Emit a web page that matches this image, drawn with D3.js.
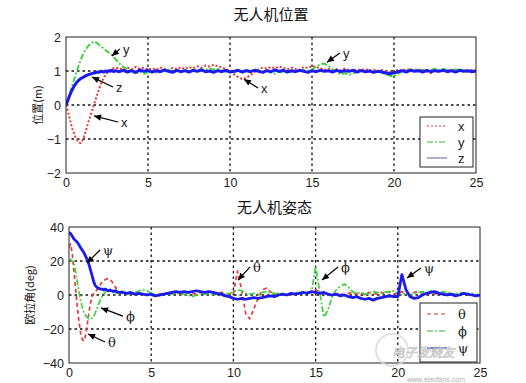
<!DOCTYPE html>
<html>
<head>
<meta charset="utf-8">
<script src="https://cdn.jsdelivr.net/npm/d3@7"></script>
<style>
  body { margin: 0; background: #fff; }
  svg { font-family: 'Liberation Sans', Arial, sans-serif; background: #fff; }
  .cjk { font-family: 'Noto Sans CJK SC', sans-serif; }
  .grid line { stroke: #111; stroke-dasharray: 2.5,3; stroke-width: 1.3; }
  .axis path, .axis line { display: none; }
  .axis text { font-size: 12.5px; fill: #222; font-family: 'Liberation Sans', Arial, sans-serif; }
  .note text { font-size: 13px; fill: #222; }
</style>
</head>
<body>
<svg width="526" height="383"></svg>
<script>
// time grid: 0.1 s for the first 3 s, then 0.25 s
var tGrid = d3.range(0, 3.001, 0.1).concat(d3.range(3.25, 25.001, 0.25));

var posTicks = [-2, -1, 0, 1, 2];
var angTicks = [-40, -20, 0, 20, 40];
var timeTicks = [0, 5, 10, 15, 20, 25];

// position (m)
var posX = [0,-0.15,-0.35,-0.55,-0.72,-0.85,-0.97,-1.05,-1.1,-1.12,-1.05,-0.92,-0.78,-0.6,-0.45,-0.3,-0.15,0,0.15,0.3,0.45,0.58,0.7,0.8,0.88,0.95,1.0,1.03,1.06,1.08,1.1,
  1.08,1.04,1.1,1.05,1.12,1.06,1.1,1.04,
  1.08,1.03,1.1,1.06,1.02,1.09,1.05,1.11,
  1.06,1.12,1.08,1.14,1.1,1.16,1.13,1.18,
  1.14,1.1,1.06,1.0,0.9,0.82,0.76,0.8,
  0.88,0.97,1.05,1.1,1.07,1.12,1.08,1.13,
  1.09,1.05,1.1,1.06,1.03,1.12,1.09,1.15,
  1.12,1.08,1.03,1.06,1.01,1.05,1.02,1.07,
  1.03,0.99,1.05,1.02,1.06,1.01,1.04,0.99,
  1.03,1.0,0.96,0.98,1.04,1.0,1.06,1.02,
  1.05,1.01,1.04,0.98,0.94,1.02,0.97,1.03,
  1.0,1.05,0.99,1.04,1.01,0.97,1.03,1.0];
var posY = [0,0.15,0.3,0.45,0.6,0.75,0.9,1.05,1.2,1.33,1.45,1.55,1.63,1.7,1.76,1.8,1.84,1.86,1.85,1.82,1.78,1.74,1.7,1.66,1.62,1.58,1.55,1.52,1.48,1.42,1.36,
  1.22,1.12,1.05,0.97,0.94,0.98,0.92,0.96,
  1.0,0.95,1.02,0.97,1.04,0.99,1.03,0.98,
  1.02,0.97,1.04,1.0,1.06,1.02,1.08,1.04,
  1.06,1.02,0.98,1.0,0.96,1.02,0.98,1.03,
  0.99,1.04,1.0,0.97,1.02,0.95,0.92,0.98,
  0.96,1.01,0.97,1.03,0.99,1.04,1.0,1.05,
  1.12,1.2,1.22,1.15,1.05,0.98,0.9,0.94,
  0.88,0.93,0.98,1.02,0.97,1.01,0.96,1.0,
  0.95,0.9,0.86,0.84,0.92,0.98,1.02,1.05,
  1.0,1.06,1.02,0.97,1.03,1.07,1.02,1.06,
  1.03,0.99,1.05,1.01,1.04,0.98,1.02,1.0];
var posZ = [0,0.12,0.25,0.37,0.47,0.56,0.63,0.69,0.74,0.78,0.8,0.83,0.86,0.88,0.9,0.91,0.93,0.94,0.95,0.97,0.96,0.98,0.99,0.97,1.0,0.98,1.01,0.99,1.02,0.98,1.01,
  0.98,1.02,0.97,1.01,0.96,1.03,0.99,1.02,
  0.97,1.01,0.98,1.03,0.99,0.96,1.02,0.98,
  1.01,0.97,1.02,0.99,1.03,0.98,1.0,0.96,
  1.01,0.98,1.02,0.97,0.99,1.02,0.97,1.01,
  0.98,1.02,0.99,0.96,1.01,0.98,1.03,0.99,
  1.02,0.97,1.01,0.98,1.02,0.99,0.96,1.01,
  0.98,1.02,0.99,1.01,0.97,1.02,0.98,1.01,
  0.99,1.02,0.97,1.01,0.98,1.0,0.96,0.99,
  0.97,0.94,0.92,0.95,0.98,1.01,0.97,1.02,
  0.99,1.01,0.97,1.02,0.98,1.01,0.99,1.02,
  0.98,1.01,0.97,1.02,0.99,1.01,0.98,1.0];

// attitude (deg)
var angTheta = [28,30,24,14,4,-6,-15,-22,-26,-27,-24,-18,-11,-5,-1,1,2,3,4.5,6,7.5,8.5,9,9.5,9.5,9,8,6.5,5,3.5,2,
  1,0.5,1.5,0.5,1,0,0.5,-0.5,
  0,0.5,1,0.5,1.5,1,0.5,1,
  1.5,1,0.5,1.5,1,2,1.5,1,
  1.5,1,0.5,1,14,3,-11,-14,
  -8,-2,3,4,2,0.5,1,0,
  0.5,0,1,0.5,1.5,1,2,3,
  2,1,0,-0.5,0.5,1,0,1,
  1.5,0.5,1,0,1.5,1,0.5,1.5,
  1,2,0.5,1,2,1,0.5,1.5,
  2,1,1.5,0.5,1,0,1,0.5,
  1,0,0.5,1,0.5,-0.5,0,0.5];
var angPhi = [20,21,20,19,14,8,2,-3,-7,-10,-12,-13,-14,-14,-13.5,-12.5,-10.5,-8,-5.5,-3,-1,0.5,1.5,2.5,3,3,2.5,2,1.5,1,1.5,
  2.5,1,0.5,1.5,2.5,3,2.5,1,
  0,-0.5,0.5,1,0.5,1.5,1,0.5,
  0,-1,0,1,0.5,1,0,0.5,
  1,0.5,1,1.5,3,2.5,1,0.5,
  1,0.5,1.5,2,1.5,1,0.5,1,
  0,0.5,1,1.5,1,2,1.5,17,
  2,-13,-9,-1,3,5,6.5,4.5,
  2,1,1.5,0.5,1,2,1.5,1,
  2,1.5,2.5,1,0.5,1,0,1,
  1.5,2,1,2.5,1.5,1,2,1.5,
  1,0.5,1.5,1,0.5,1,0.5,0];
var angPsi = [37,36,34.5,33,32,31,29.5,28,26.5,25,23,21,18.5,15,11.5,8,5.5,4.5,4,3.5,3.5,3,3.5,3,2.5,3,2.5,2,2.5,2,1.5,
  1.5,1,1.5,0.5,1,0.5,0,0.5,
  -0.5,0,0.5,1,1.5,2,1.5,2,
  1.5,2,2.5,2,1.5,2,1.5,1,
  0.5,-0.5,-1,-2,-2.5,-2,-2.5,-2,
  -1.5,-2,-1.5,-1,-0.5,-1,0,0.5,
  0,1,0.5,1,1.5,1,2,1.5,
  1,1.5,0.5,0,0.5,-0.5,0,-1,
  -1.5,-1,-2,-2.5,-2,-3,-2,-1.5,
  -1,-0.5,-1,-1,12,3,-1,-2,
  -1.5,0,1,1.5,2,1,0.5,0,
  0.5,-0.5,0,1,0.5,0,-0.5,0];

// annotation arrows, in data units: label, tail (t, v), tip (t, v)
var posNotes = [
  { label: "y", t0: 3.29, v0: 1.65, t1: 2.8, v1: 1.44 },
  { label: "z", t0: 2.87, v0: 0.53, t1: 1.59, v1: 0.82 },
  { label: "x", t0: 3.17, v0: -0.5, t1: 1.71, v1: -0.32 },
  { label: "y", t0: 16.7, v0: 1.53, t1: 15.91, v1: 1.26 },
  { label: "x", t0: 11.71, v0: 0.5, t1: 10.85, v1: 0.76 }
];
var angNotes = [
  { label: "\u03c8", t0: 1.89, v0: 26.5, t1: 1.09, v1: 18.8 },
  { label: "\u03d5", t0: 3.28, v0: -12.4, t1: 1.95, v1: -7.6 },
  { label: "\u03b8", t0: 2.19, v0: -27.6, t1: 1.16, v1: -22.9 },
  { label: "\u03b8", t0: 11.01, v0: 16.5, t1: 10.28, v1: 8.8 },
  { label: "\u03d5", t0: 16.36, v0: 16.5, t1: 15.39, v1: 8.8 },
  { label: "\u03c8", t0: 21.41, v0: 15.9, t1: 20.56, v1: 10 }
];

var svg = d3.select("svg");

svg.append("defs").append("marker")
  .attr("id", "head")
  .attr("viewBox", "0 0 10 10")
  .attr("refX", 10).attr("refY", 5)
  .attr("markerWidth", 8).attr("markerHeight", 7)
  .attr("markerUnits", "userSpaceOnUse")
  .attr("orient", "auto")
  .append("path").attr("d", "M0,0.5L10,5L0,9.5z").attr("fill", "#000");

function drawPanel(cfg) {
  var x = d3.scaleLinear().domain([0, 25]).range([cfg.left, cfg.right]);
  var y = d3.scaleLinear().domain(cfg.domain).range([cfg.bottom, cfg.top]);

  // title
  svg.append("text").attr("class", "cjk")
    .attr("x", (cfg.left + cfg.right) / 2).attr("y", cfg.titleY)
    .attr("text-anchor", "middle").style("font-size", "15px").attr("fill", "#111")
    .text(cfg.title);

  // y label
  svg.append("text").attr("class", "cjk")
    .attr("transform", "translate(" + cfg.ylabelX + "," + ((cfg.top + cfg.bottom) / 2) + ") rotate(-90)")
    .attr("text-anchor", "middle").attr("dy", "0.35em")
    .style("font-size", "11px").attr("fill", "#111")
    .text(cfg.ylabel);

  // grid
  var g = svg.append("g").attr("class", "grid");
  g.selectAll(".vx").data(timeTicks.slice(1, -1)).enter().append("line")
    .attr("x1", x).attr("x2", x).attr("y1", cfg.top).attr("y2", cfg.bottom);
  g.selectAll(".hy").data(cfg.ticks.slice(1, -1)).enter().append("line")
    .attr("y1", y).attr("y2", y).attr("x1", cfg.left).attr("x2", cfg.right);

  // clip
  var id = "clip" + cfg.key;
  svg.select("defs").append("clipPath").attr("id", id)
    .append("rect").attr("x", cfg.left).attr("y", cfg.top)
    .attr("width", cfg.right - cfg.left).attr("height", cfg.bottom - cfg.top);

  var line = d3.line().x(function (d, i) { return x(tGrid[i]); }).y(function (d) { return y(d); });
  cfg.series.forEach(function (s) {
    svg.append("path")
      .attr("clip-path", "url(#" + id + ")")
      .attr("d", line(s.values))
      .attr("fill", "none")
      .attr("stroke", s.color)
      .attr("stroke-width", s.width)
      .attr("stroke-dasharray", s.dash)
      .attr("stroke-linejoin", "round");
  });

  // box
  svg.append("rect").attr("x", cfg.left).attr("y", cfg.top)
    .attr("width", cfg.right - cfg.left).attr("height", cfg.bottom - cfg.top)
    .attr("fill", "none").attr("stroke", "#222").attr("stroke-width", 1);

  // axes
  svg.append("g").attr("class", "axis")
    .attr("transform", "translate(" + cfg.left + ",0)")
    .call(d3.axisLeft(y).tickValues(cfg.ticks).tickFormat(d3.format("d")).tickSize(0).tickPadding(5));
  svg.append("g").attr("class", "axis")
    .attr("transform", "translate(0," + cfg.bottom + ")")
    .call(d3.axisBottom(x).tickValues(timeTicks).tickSize(0).tickPadding(5));

  // notes
  var n = svg.append("g").attr("class", "note");
  cfg.notes.forEach(function (a) {
    n.append("line")
      .attr("x1", x(a.t0)).attr("y1", y(a.v0))
      .attr("x2", x(a.t1)).attr("y2", y(a.v1))
      .attr("stroke", "#000").attr("stroke-width", 1.2)
      .attr("marker-end", "url(#head)");
    n.append("text")
      .attr("x", x(a.t0) + 3).attr("y", y(a.v0) + 5)
      .attr("font-family", a.label.charCodeAt(0) > 900 ? "'DejaVu Serif', serif" : null)
      .text(a.label);
  });

  // legend
  var L = cfg.legend;
  svg.append("rect").attr("x", L.x).attr("y", L.y).attr("width", L.w).attr("height", L.h)
    .attr("fill", "#fff").attr("stroke", "#222").attr("stroke-width", 1);
  cfg.series.forEach(function (s, i) {
    var yy = L.y + L.first + i * L.step;
    svg.append("line").attr("x1", L.x + 7).attr("x2", L.x + 27).attr("y1", yy).attr("y2", yy)
      .attr("stroke", s.legendColor).attr("stroke-width", 1.6).attr("stroke-dasharray", s.dash);
    svg.append("text").attr("x", L.x + 38).attr("y", yy).attr("dy", "0.35em")
      .style("font-size", "13px").attr("fill", "#222")
      .attr("font-family", s.serif ? "'DejaVu Serif', serif" : null)
      .text(s.name);
  });
}

drawPanel({
  key: "pos", left: 66, right: 476, top: 37, bottom: 173,
  domain: [-2, 2], ticks: posTicks,
  title: "无人机位置", titleY: 20,
  ylabel: "位置(m)", ylabelX: 38,
  series: [
    { name: "x", values: posX, color: "#e8383a", legendColor: "#e07878", dash: "2,2", width: 2 },
    { name: "y", values: posY, color: "#3fd43f", legendColor: "#70d070", dash: "6,2,2,2", width: 2 },
    { name: "z", values: posZ, color: "#1b1bf0", legendColor: "#9c9cc8", dash: null, width: 3 }
  ],
  notes: posNotes,
  legend: { x: 420, y: 117, w: 53, h: 50, first: 9, step: 16 }
});

drawPanel({
  key: "ang", left: 69, right: 480, top: 227, bottom: 363,
  domain: [-40, 40], ticks: angTicks,
  title: "无人机姿态", titleY: 213,
  ylabel: "欧拉角(deg)", ylabelX: 30,
  series: [
    { name: "\u03b8", values: angTheta, color: "#e8383a", legendColor: "#e07878", dash: "4,3", width: 1.7, serif: true },
    { name: "\u03d5", values: angPhi, color: "#3fd43f", legendColor: "#70d070", dash: "6,2,2,2", width: 1.7, serif: true },
    { name: "\u03c8", values: angPsi, color: "#1b1bf0", legendColor: "#5a5ad0", dash: null, width: 2.8, serif: true }
  ],
  notes: angNotes,
  legend: { x: 420, y: 303, w: 57, h: 59, first: 11, step: 17 }
});

// watermark
var wm = svg.append("g").attr("opacity", 0.85);
wm.append("circle").attr("cx", 392).attr("cy", 350).attr("r", 16)
  .attr("fill", "none").attr("stroke", "#ddd").attr("stroke-width", 2);
wm.append("text").attr("class", "cjk").attr("x", 392).attr("y", 357)
  .style("font-size", "12.5px").style("font-style", "italic")
  .attr("fill", "#fff").attr("stroke", "#bbb").attr("stroke-width", 0.7)
  .text("电子发烧友");
wm.append("text").attr("x", 407).attr("y", 382)
  .style("font-size", "7px").attr("fill", "#fff").attr("stroke", "#bbb").attr("stroke-width", 0.4)
  .text("www.elecfans.com");
</script>
</body>
</html>
